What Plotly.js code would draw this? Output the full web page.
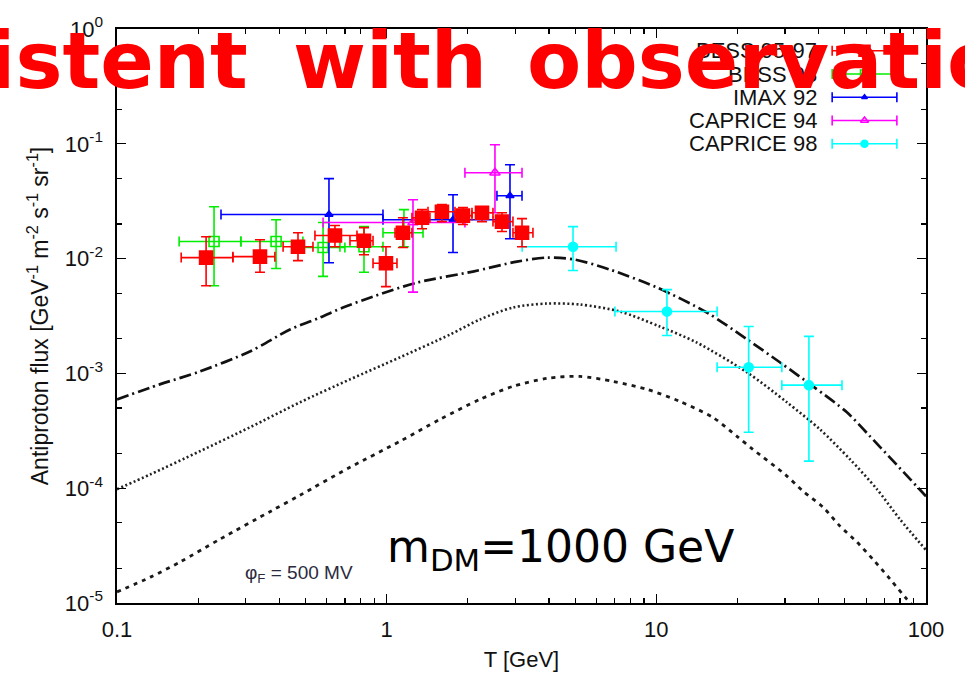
<!DOCTYPE html>
<html>
<head>
<meta charset="utf-8">
<script src="https://cdn.plot.ly/plotly-3.0.1.min.js"></script>
<style>
  html, body { margin: 0; padding: 0; background: #fff; }
  #chart { width: 965px; height: 673px; }
</style>
</head>
<body>
<div id="chart"></div>
<script>
// ---- Measured antiproton flux, T in GeV, flux in GeV^-1 m^-2 s^-1 sr^-1 ----
// BESS 95-97
const bess9597T      = [0.214, 0.339, 0.469, 0.643, 0.824, 0.994, 1.149, 1.352, 1.603, 1.918, 2.257, 2.677, 3.176];
const bess9597TLo    = [0.173, 0.269, 0.413, 0.542, 0.731, 0.890, 1.074, 1.241, 1.423, 1.792, 2.072, 2.479, 2.940];
const bess9597THi    = [0.269, 0.385, 0.533, 0.776, 0.890, 1.092, 1.241, 1.447, 1.792, 2.072, 2.479, 2.940, 3.487];
const bess9597Flux   = [0.0102, 0.0104, 0.0127, 0.0159, 0.0143, 0.0091, 0.0168, 0.0227, 0.0256, 0.0237, 0.0251, 0.0210, 0.0168];
const bess9597FluxLo = [0.0058, 0.0076, 0.0096, 0.0127, 0.0108, 0.0057, 0.0125, 0.0182, 0.0210, 0.0198, 0.0210, 0.0172, 0.0127];
const bess9597FluxHi = [0.0155, 0.0146, 0.0168, 0.0194, 0.0186, 0.0127, 0.0227, 0.0267, 0.0295, 0.0278, 0.0283, 0.0251, 0.0223];

// BESS 98
const bess98T      = [0.229, 0.389, 0.581, 0.824, 1.159];
const bess98TLo    = [0.170, 0.288, 0.489, 0.671, 0.969];
const bess98THi    = [0.288, 0.489, 0.700, 0.969, 1.364];
const bess98Flux   = [0.0141, 0.0141, 0.0125, 0.0127, 0.0168];
const bess98FluxLo = [0.0058, 0.0082, 0.0070, 0.0076, 0.0127];
const bess98FluxHi = [0.0283, 0.0218, 0.0206, 0.0190, 0.0267];

// IMAX 92
const imax92T      = [0.611, 1.762, 2.866];
const imax92TLo    = [0.243, 0.969, 2.564];
const imax92THi    = [0.969, 2.564, 3.176];
const imax92Flux   = [0.0242, 0.0218, 0.0353];
const imax92FluxLo = [0.0092, 0.0113, 0.0149];
const imax92FluxHi = [0.0497, 0.0360, 0.0657];

// CAPRICE 94
const caprice94T      = [1.252, 2.521];
const caprice94TLo    = [0.581, 1.951];
const caprice94THi    = [1.951, 3.176];
const caprice94Flux   = [0.0206, 0.0560];
const caprice94FluxLo = [0.0051, 0.0251];
const caprice94FluxHi = [0.0326, 0.0980];

// CAPRICE 98
const caprice98T      = [4.91, 10.95, 22.0, 36.8];
const caprice98TLo    = [3.18, 7.02, 16.8, 29.2];
const caprice98THi    = [7.09, 16.8, 29.2, 48.8];
const caprice98Flux   = [0.0127, 0.00346, 0.00113, 0.00079];
const caprice98FluxLo = [0.00787, 0.00214, 0.000307, 0.000172];
const caprice98FluxHi = [0.0190, 0.00537, 0.00256, 0.00210];

// ---- Model fluxes ----
// dash-dot curve
const modelAT    = [0.1, 0.144, 0.203, 0.311, 0.438, 0.566, 0.689, 0.890, 1.296, 2.089, 3.04, 3.93, 4.99, 6.73, 10.05, 15.4, 21.7, 28.7, 38.1, 50.9, 62.0, 100];
const modelAFlux = [5.94e-4, 8.02e-4, 1.04e-3, 1.55e-3, 2.41e-3, 3.07e-3, 3.75e-3, 4.67e-3, 6.18e-3, 7.71e-3, 9.41e-3, 1.02e-2, 9.8e-3, 8.02e-3, 5.6e-3, 3.39e-3, 1.98e-3, 1.25e-3, 7.71e-4, 4.58e-4, 2.83e-4, 8.51e-5];
// dotted curve
const modelBT    = [0.1, 0.133, 0.203, 0.311, 0.477, 0.731, 1.12, 1.717, 2.218, 2.94, 3.93, 5.21, 7.33, 10.3, 14.1, 21.7, 30.5, 40.4, 52.2, 65.8, 80.0, 100];
const modelBFlux = [9.8e-5, 1.32e-4, 2.1e-4, 3.39e-4, 5.6e-4, 8.87e-4, 1.38e-3, 2.18e-3, 2.95e-3, 3.75e-3, 4.06e-3, 3.98e-3, 3.46e-3, 2.56e-3, 1.86e-3, 1.02e-3, 5.6e-4, 3.26e-4, 1.79e-4, 9.8e-5, 5.37e-5, 2.89e-5];
// dashed curve
const modelCT    = [0.1, 0.133, 0.171, 0.241, 0.372, 0.477, 0.731, 1.12, 1.576, 2.218, 2.94, 3.93, 5.21, 6.9, 9.23, 12.2, 16.2, 19.9, 22.8, 30.0, 35.0, 41.5, 48.0, 55.5, 63.5, 73.5, 84.9, 93.0];
const modelCFlux = [1.25e-5, 1.68e-5, 2.27e-5, 3.6e-5, 6.31e-5, 8.69e-5, 1.52e-4, 2.56e-4, 3.98e-4, 5.94e-4, 7.71e-4, 9.05e-4, 9.42e-4, 8.52e-4, 7.26e-4, 5.71e-4, 4.14e-4, 2.83e-4, 2.18e-4, 1.32e-4, 9.42e-5, 6.84e-5, 4.67e-5, 3.39e-5, 2.41e-5, 1.62e-5, 1.08e-5, 8.5e-6];

// ---- Axis ticks ----
const xTickVals  = [0.1, 1, 10, 100];
const xTickText  = ['0.1', '1', '10', '100'];
const yTickVals  = [1e-5, 1e-4, 1e-3, 1e-2, 1e-1, 1];
const yTickText  = ['10<sup>-5</sup>', '10<sup>-4</sup>', '10<sup>-3</sup>', '10<sup>-2</sup>', '10<sup>-1</sup>', '10<sup>0</sup>'];

// ---- Legend entries (top to bottom) ----
const legendNames   = ['BESS 95-97', 'BESS 98', 'IMAX 92', 'CAPRICE 94', 'CAPRICE 98'];
const legendColors  = ['#ff0000', '#00ee00', '#0000ff', '#ff00ff', '#00ffff'];
const legendSymbols = ['square', 'square-open', 'triangle-up', 'triangle-up-open', 'circle'];
const legendSizes   = [13, 10, 7, 9, 9];

const axisFont = { family: 'Liberation Sans, Arial, sans-serif', size: 22, color: '#111' };

function minorLog(decLo, decHi, digits) {
  const v = [];
  for (let d = decLo; d < decHi; d++) {
    digits.forEach(k => v.push(k * Math.pow(10, d)));
  }
  return v;
}

function dataTrace(name, color, symbol, size, T, TLo, THi, F, FLo, FHi) {
  return {
    type: 'scatter', mode: 'markers', name: name, x: T, y: F,
    marker: { color: color, symbol: symbol, size: size, line: { color: color, width: 1.6 } },
    error_x: { type: 'data', symmetric: false, array: THi.map((v, i) => v - T[i]),
               arrayminus: T.map((v, i) => v - TLo[i]), color: color, thickness: 1.6, width: 5 },
    error_y: { type: 'data', symmetric: false, array: FHi.map((v, i) => v - F[i]),
               arrayminus: F.map((v, i) => v - FLo[i]), color: color, thickness: 1.6, width: 5 },
    showlegend: false, cliponaxis: true
  };
}

const traces = [
  { type: 'scatter', mode: 'lines', x: modelAT, y: modelAFlux, line: { color: '#111', width: 2.7, dash: '12px,4px,2px,4px', shape: 'spline', smoothing: 0.8 }, showlegend: false },
  { type: 'scatter', mode: 'lines', x: modelBT, y: modelBFlux, line: { color: '#222', width: 2.6, dash: '2px,2.5px', shape: 'spline', smoothing: 0.8 }, showlegend: false },
  { type: 'scatter', mode: 'lines', x: modelCT, y: modelCFlux, line: { color: '#1a1a1a', width: 2.8, dash: '4px,5px', shape: 'spline', smoothing: 0.8 }, showlegend: false },
  dataTrace(legendNames[1], legendColors[1], legendSymbols[1], legendSizes[1], bess98T, bess98TLo, bess98THi, bess98Flux, bess98FluxLo, bess98FluxHi),
  dataTrace(legendNames[2], legendColors[2], legendSymbols[2], legendSizes[2], imax92T, imax92TLo, imax92THi, imax92Flux, imax92FluxLo, imax92FluxHi),
  dataTrace(legendNames[3], legendColors[3], legendSymbols[3], legendSizes[3], caprice94T, caprice94TLo, caprice94THi, caprice94Flux, caprice94FluxLo, caprice94FluxHi),
  dataTrace(legendNames[4], legendColors[4], legendSymbols[4], legendSizes[4], caprice98T, caprice98TLo, caprice98THi, caprice98Flux, caprice98FluxLo, caprice98FluxHi),
  dataTrace(legendNames[0], legendColors[0], legendSymbols[0], legendSizes[0], bess9597T, bess9597TLo, bess9597THi, bess9597Flux, bess9597FluxLo, bess9597FluxHi)
];

// Key box in the upper right: label on the left, sample (error bar + symbol) on the right
const keyTop = 0.962, keyStep = 0.0405, keyTextX = 0.868, keySampleX = 0.924, keySampleHalf = 0.040;
const annotations = [];
legendNames.forEach((name, i) => {
  const yy = keyTop - i * keyStep;
  traces.push({
    type: 'scatter', mode: 'markers', xaxis: 'x2', yaxis: 'y2', x: [keySampleX], y: [yy],
    marker: { color: legendColors[i], symbol: legendSymbols[i], size: legendSizes[i] - 2, line: { color: legendColors[i], width: 1.6 } },
    error_x: { type: 'constant', value: keySampleHalf, color: legendColors[i], thickness: 1.6, width: 5 },
    showlegend: false, hoverinfo: 'skip'
  });
  annotations.push({ xref: 'paper', yref: 'paper', x: keyTextX, y: yy, xanchor: 'right', yanchor: 'middle',
                     text: name, showarrow: false, font: axisFont });
});

annotations.push(
  { xref: 'paper', yref: 'paper', x: 0.156, y: 0.050, xanchor: 'left', yanchor: 'middle', showarrow: false,
    text: '\u03c6<sub>F</sub> = 500 MV', font: { family: 'Liberation Sans, Arial, sans-serif', size: 19, color: '#2b2b3d' } },
  { xref: 'paper', yref: 'paper', x: 0.331, y: 0.094, xanchor: 'left', yanchor: 'middle', showarrow: false,
    text: 'm<sub>DM</sub>=1000 GeV', font: { family: 'DejaVu Sans, sans-serif', size: 44, color: '#000' } },
  // headline across the top
  { xref: 'paper', yref: 'paper', x: 0.1644, y: 0.944, xanchor: 'right', yanchor: 'middle', showarrow: false,
    text: 'consistent', font: { family: 'DejaVu Sans, sans-serif', size: 79, color: '#ff0000', weight: 'bold' } },
  { xref: 'paper', yref: 'paper', x: 0.2151, y: 0.944, xanchor: 'left', yanchor: 'middle', showarrow: false,
    text: 'with', font: { family: 'DejaVu Sans, sans-serif', size: 79, color: '#ff0000', weight: 'bold' } },
  { xref: 'paper', yref: 'paper', x: 0.5043, y: 0.944, xanchor: 'left', yanchor: 'middle', showarrow: false,
    text: 'observations', font: { family: 'DejaVu Sans, sans-serif', size: 79, color: '#ff0000', weight: 'bold' } }
);

const layout = {
  width: 965, height: 673,
  margin: { l: 117, r: 39, t: 29, b: 70 },
  paper_bgcolor: '#fff', plot_bgcolor: '#fff',
  showlegend: false,
  font: axisFont,
  xaxis: {
    type: 'log', range: [-1, 2], showgrid: false, zeroline: false,
    showline: true, linecolor: '#000', linewidth: 1.6, mirror: 'allticks',
    ticks: 'inside', ticklen: 9, tickwidth: 1.3, tickcolor: '#000',
    tickmode: 'array', tickvals: xTickVals, ticktext: xTickText, tickfont: axisFont, ticklabelstandoff: 6,
    minor: { tickmode: 'array', tickvals: minorLog(-1, 2, [2, 3, 4, 5, 6, 7, 8, 9]), ticks: 'inside', ticklen: 5, tickwidth: 1.3, tickcolor: '#000', showgrid: false },
    title: { text: 'T [GeV]', font: axisFont, standoff: 10 }
  },
  yaxis: {
    type: 'log', range: [-5, 0], showgrid: false, zeroline: false,
    showline: true, linecolor: '#000', linewidth: 1.6, mirror: 'allticks',
    ticks: 'inside', ticklen: 9, tickwidth: 1.3, tickcolor: '#000',
    tickmode: 'array', tickvals: yTickVals, ticktext: yTickText, tickfont: axisFont, ticklabelstandoff: 8,
    minor: { tickmode: 'array', tickvals: minorLog(-5, 0, [2, 5]), ticks: 'inside', ticklen: 5, tickwidth: 1.3, tickcolor: '#000', showgrid: false },
    title: { text: 'Antiproton flux [GeV<sup>-1</sup> m<sup>-2</sup> s<sup>-1</sup> sr<sup>-1</sup>]', font: { family: 'Liberation Sans, Arial, sans-serif', size: 23, color: '#111' }, standoff: 10 }
  },
  xaxis2: { overlaying: 'x', range: [0, 1], visible: false, fixedrange: true },
  yaxis2: { overlaying: 'y', range: [0, 1], visible: false, fixedrange: true },
  annotations: annotations
};

Plotly.newPlot('chart', traces, layout, { displayModeBar: false, staticPlot: true });
</script>
</body>
</html>
